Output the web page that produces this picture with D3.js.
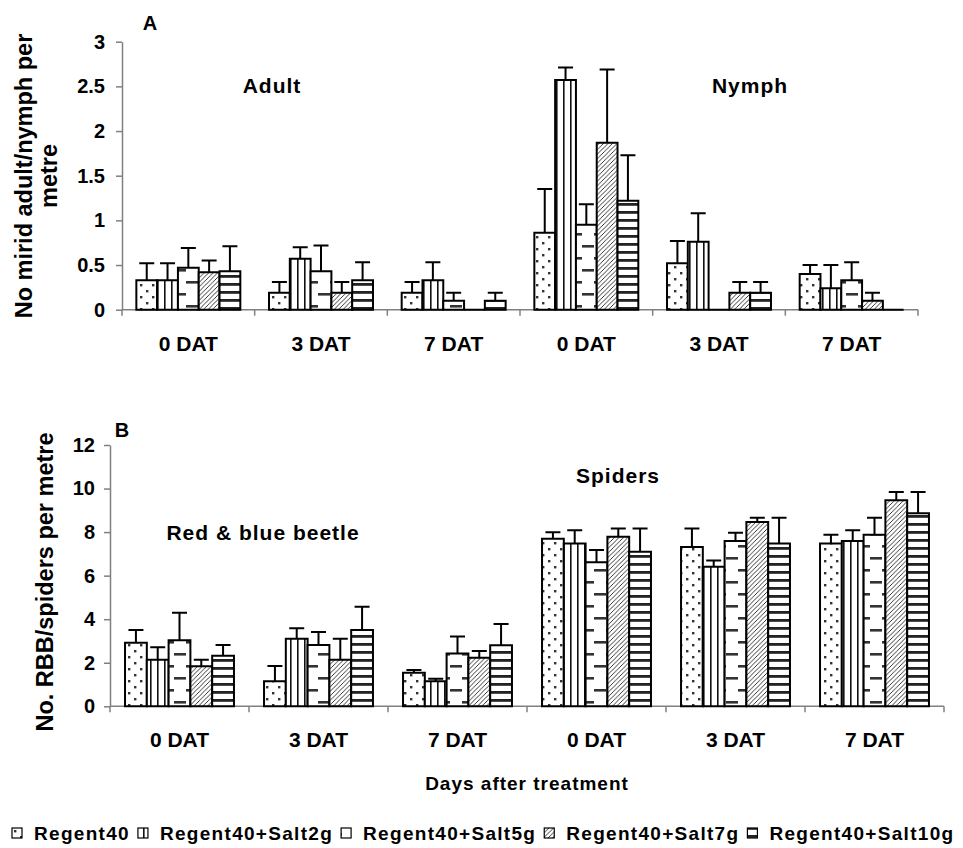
<!DOCTYPE html>
<html>
<head>
<meta charset="utf-8">
<script src="https://cdn.jsdelivr.net/npm/d3@7"></script>
<style>
  body { margin: 0; background: #fff; }
  svg text { font-family: Arial, "Liberation Sans", sans-serif; font-weight: bold; fill: #000; }
</style>
</head>
<body>
<div id="chart"></div>
<script>
////////////////////////////////////////////////////////////////////
////////////////////////////  Data  ////////////////////////////////
const series = ["Regent40", "Regent40+Salt2g", "Regent40+Salt5g", "Regent40+Salt7g", "Regent40+Salt10g"];
const days = ["0 DAT", "3 DAT", "7 DAT", "0 DAT", "3 DAT", "7 DAT"];

// panel A : mirid adults (first 3 groups) and nymphs (last 3 groups)
const miridMean = [
  [0.33, 0.33, 0.47, 0.42, 0.43],
  [0.19, 0.57, 0.43, 0.19, 0.33],
  [0.19, 0.33, 0.10, 0, 0.10],
  [0.86, 2.57, 0.95, 1.87, 1.22],
  [0.52, 0.76, 0, 0.19, 0.19],
  [0.40, 0.24, 0.33, 0.10, 0],
];
const miridSE = [
  [0.19, 0.19, 0.22, 0.13, 0.28],
  [0.12, 0.13, 0.29, 0.12, 0.20],
  [0.12, 0.20, 0.09, 0, 0.09],
  [0.49, 0.14, 0.23, 0.82, 0.51],
  [0.25, 0.32, 0, 0.12, 0.12],
  [0.10, 0.26, 0.20, 0.09, 0],
];

// panel B : red & blue beetle (first 3 groups) and spiders (last 3 groups)
const beneMean = [
  [2.92, 2.14, 3.03, 1.84, 2.32],
  [1.15, 3.10, 2.81, 2.14, 3.50],
  [1.54, 1.15, 2.43, 2.23, 2.80],
  [7.70, 7.48, 6.61, 7.79, 7.10],
  [7.31, 6.41, 7.59, 8.46, 7.48],
  [7.48, 7.59, 7.88, 9.46, 8.86],
];
const beneSE = [
  [0.58, 0.57, 1.27, 0.30, 0.49],
  [0.70, 0.49, 0.60, 0.96, 1.07],
  [0.13, 0.12, 0.78, 0.31, 0.98],
  [0.29, 0.60, 0.57, 0.38, 1.07],
  [0.86, 0.29, 0.38, 0.20, 1.18],
  [0.40, 0.49, 0.78, 0.38, 0.98],
];

const ticksA = [0, 0.5, 1, 1.5, 2, 2.5, 3];
const ticksB = [0, 2, 4, 6, 8, 10, 12];

////////////////////////////////////////////////////////////////////
////////////////////////////  Init  ////////////////////////////////
const width = 963, height = 848;
const axisColor = "#808080";

const svg = d3.select("#chart").append("svg")
  .attr("width", width)
  .attr("height", height)
  .style("background", "#fff");

// fill patterns (one per treatment)
const defs = svg.append("defs");

const pDots = defs.append("pattern").attr("id", "pat0")
  .attr("patternUnits", "userSpaceOnUse").attr("width", 12).attr("height", 12);
pDots.append("rect").attr("width", 12).attr("height", 12).attr("fill", "#fff");
pDots.append("rect").attr("x", 2).attr("y", 2).attr("width", 2.4).attr("height", 2.4).attr("fill", "#333");
pDots.append("rect").attr("x", 8).attr("y", 8).attr("width", 2.4).attr("height", 2.4).attr("fill", "#333");

const pVert = defs.append("pattern").attr("id", "pat1")
  .attr("patternUnits", "userSpaceOnUse").attr("width", 7).attr("height", 10);
pVert.append("rect").attr("width", 7).attr("height", 10).attr("fill", "#fff");
pVert.append("rect").attr("x", 3).attr("width", 1.6).attr("height", 10).attr("fill", "#111");

const pDash = defs.append("pattern").attr("id", "pat2")
  .attr("patternUnits", "userSpaceOnUse").attr("width", 24).attr("height", 24);
pDash.append("rect").attr("width", 24).attr("height", 24).attr("fill", "#fff");
[[6, 5], [-6, 17], [18, 17]].forEach(([x, y]) =>
  pDash.append("rect").attr("x", x).attr("y", y).attr("width", 12).attr("height", 2.6).attr("fill", "#333"));

const pDiag = defs.append("pattern").attr("id", "pat3")
  .attr("patternUnits", "userSpaceOnUse").attr("width", 4.5).attr("height", 4.5);
pDiag.append("rect").attr("width", 4.5).attr("height", 4.5).attr("fill", "#fff");
pDiag.append("path").attr("d", "M0,4.5 L4.5,0 M-1,1 L1,-1 M3.5,5.5 L5.5,3.5")
  .attr("stroke", "#222").attr("stroke-width", 0.9);

const pHor = defs.append("pattern").attr("id", "pat4")
  .attr("patternUnits", "userSpaceOnUse").attr("width", 10).attr("height", 8);
pHor.append("rect").attr("width", 10).attr("height", 8).attr("fill", "#fff");
pHor.append("rect").attr("y", 3).attr("width", 10).attr("height", 2.8).attr("fill", "#222");

////////////////////////////////////////////////////////////////////
////////////////////////////  Panels  //////////////////////////////
const drawPanel = (cfg) => {
  const g = svg.append("g");

  const x = d3.scaleBand().domain(d3.range(days.length)).range([cfg.left, cfg.right]).padding(0);
  const xInner = d3.scaleBand().domain(d3.range(series.length))
    .range([0, x.bandwidth()]).paddingInner(0).paddingOuter(0.69);
  const y = d3.scaleLinear().domain([0, cfg.ticks[cfg.ticks.length - 1]]).range([cfg.bottom, cfg.top]);

  // y axis
  const yAxis = g.append("g")
    .attr("transform", `translate(${cfg.left},0)`)
    .call(d3.axisLeft(y).tickValues(cfg.ticks).tickSize(6).tickSizeOuter(0)
      .tickPadding(cfg.tickPad).tickFormat((d) => String(d)));
  yAxis.select(".domain").attr("stroke", axisColor).attr("stroke-width", 1.5);
  yAxis.selectAll(".tick line").attr("stroke", axisColor).attr("stroke-width", 1.5);
  yAxis.selectAll(".tick text").style("font-size", "20px").attr("fill", "#000");

  // x axis (line + ticks at group boundaries)
  g.append("line")
    .attr("x1", cfg.left).attr("x2", cfg.right)
    .attr("y1", y(0)).attr("y2", y(0))
    .attr("stroke", axisColor).attr("stroke-width", 1.5);
  const bounds = d3.range(days.length + 1).map((i) => (i < days.length ? x(i) : cfg.right));
  g.selectAll(".xtick").data(bounds).enter().append("line")
    .attr("x1", (d) => d).attr("x2", (d) => d)
    .attr("y1", y(0)).attr("y2", y(0) + 6)
    .attr("stroke", axisColor).attr("stroke-width", 1.5);
  g.selectAll(".xlab").data(days).enter().append("text")
    .attr("x", (d, i) => x(i) + x.bandwidth() / 2)
    .attr("y", y(0) + 41)
    .attr("text-anchor", "middle")
    .style("font-size", "21px")
    .text((d) => d);

  // bars
  const cells = [];
  cfg.means.forEach((row, gi) => row.forEach((v, si) =>
    cells.push({ gi, si, v, se: cfg.se[gi][si] })));

  const bx = (d) => x(d.gi) + xInner(d.si);
  const bw = xInner.bandwidth();

  g.selectAll(".bar").data(cells).enter().append("path")
    .attr("d", (d) => `M${bx(d)},${y(0)}V${y(d.v)}H${bx(d) + bw}V${y(0)}Z`)
    .attr("fill", (d) => `url(#pat${d.si})`)
    .attr("stroke", "#000")
    .attr("stroke-width", 2)
    .attr("stroke-linejoin", "miter");

  // error bars (upper only)
  const errs = cells.filter((d) => d.se > 0);
  g.selectAll(".err").data(errs).enter().append("path")
    .attr("d", (d) => {
      const cx = bx(d) + bw / 2;
      return `M${cx},${y(d.v)}V${y(d.v + d.se)}M${cx - 7.5},${y(d.v + d.se)}H${cx + 7.5}`;
    })
    .attr("fill", "none")
    .attr("stroke", "#000")
    .attr("stroke-width", 2);

  // notes inside the plot
  cfg.notes.forEach((n) => {
    g.append("text")
      .attr("x", n.x).attr("y", n.y)
      .attr("text-anchor", "middle")
      .style("font-size", "21px")
      .style("letter-spacing", "1px")
      .text(n.text);
  });

  // panel letter
  g.append("text")
    .attr("x", cfg.letterX).attr("y", cfg.letterY)
    .attr("text-anchor", "middle")
    .style("font-size", "20px")
    .text(cfg.letter);

  // y title
  const title = g.append("text")
    .attr("transform", `translate(0,${cfg.titleY}) rotate(-90)`)
    .attr("text-anchor", "middle")
    .style("font-size", "23.5px");
  cfg.titleLines.forEach((t, i) => {
    title.append("tspan").attr("x", 0).attr("y", cfg.titleX[i]).text(t);
  });
};

drawPanel({
  means: miridMean, se: miridSE, ticks: ticksA,
  left: 122, right: 918, top: 41.7, bottom: 309.7, tickPad: 11,
  notes: [{ text: "Adult", x: 272, y: 93 }, { text: "Nymph", x: 750, y: 93 }],
  letter: "A", letterX: 150, letterY: 30,
  titleLines: ["No mirid adult/nymph per", "metre"], titleX: [32, 57], titleY: 176,
});

drawPanel({
  means: beneMean, se: beneSE, ticks: ticksB,
  left: 110, right: 944, top: 445, bottom: 706.3, tickPad: 9,
  notes: [{ text: "Red & blue beetle", x: 263, y: 540 }, { text: "Spiders", x: 618, y: 483 }],
  letter: "B", letterX: 122, letterY: 437,
  titleLines: ["No. RBB/spiders per metre"], titleX: [53], titleY: 582,
});

////////////////////////////////////////////////////////////////////
////////////////////////////  Footer  //////////////////////////////
svg.append("text")
  .attr("x", 527).attr("y", 790)
  .attr("text-anchor", "middle")
  .style("font-size", "19px")
  .style("letter-spacing", "1px")
  .text("Days after treatment");

// legend, laid out left to right
const legend = svg.append("g");
let lx = 12;
series.forEach((s, i) => {
  legend.append("rect")
    .attr("x", lx).attr("y", 828)
    .attr("width", 10).attr("height", 10)
    .attr("fill", `url(#pat${i})`)
    .attr("stroke", "#000").attr("stroke-width", 1.2);
  lx += 22;
  const t = legend.append("text")
    .attr("x", lx).attr("y", 840)
    .style("font-size", "19px")
    .style("letter-spacing", "1.3px")
    .text(s);
  lx += t.node().getComputedTextLength() + 8;
});
</script>
</body>
</html>
